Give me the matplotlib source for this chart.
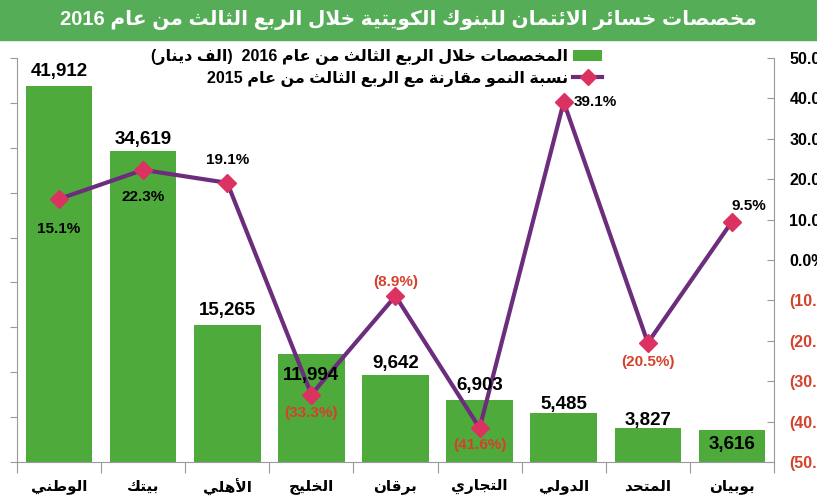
import re
import matplotlib
matplotlib.use("Agg")
import matplotlib.pyplot as plt
from matplotlib.patches import Rectangle, Patch
from matplotlib.lines import Line2D
import numpy as np

# ── data ────────────────────────────────────────────────────────────────
TITLE = "مخصصات خسائر الائتمان للبنوك الكويتية خلال الربع الثالث من عام 2016"
LEGEND_BARS = "المخصصات خلال الربع الثالث من عام 2016  (الف دينار)"
LEGEND_LINE = "نسبة النمو مقارنة مع الربع الثالث من عام 2015"
banks = ["الوطني", "بيتك", "الأهلي", "الخليج", "برقان", "التجاري", "الدولي", "المتحد", "بوبيان"]
provisions = [41912, 34619, 15265, 11994, 9642, 6903, 5485, 3827, 3616]
growth = [15.1, 22.3, 19.1, -33.3, -8.9, -41.6, 39.1, -20.5, 9.5]
right_ticks = [-50, -40, -30, -20, -10, 0, 10, 20, 30, 40, 50]

# label offsets in pixels (dx, dy) - placement only
bar_lbl_dy = [14, 12, 14, -21, 12, 15, 8, 7, -15]
pct_lbl_off = [(0, -30), (0, -27), (0, 23), (0, -18), (0, 14),
               (0, -17), (10, 0), (0, -19), (17, 16)]

GREEN = "#4FAA3C"
BANNER = "#55AD58"
PURPLE = "#6B2D7C"
PINK = "#DC3262"
RED = "#D4412C"
GREY = "#9A9A9A"


# ── minimal arabic shaping (matplotlib does no shaping / bidi) ─────────
DUAL = {'ئ': 0xFE89, 'ب': 0xFE8F, 'ت': 0xFE95, 'ث': 0xFE99, 'ج': 0xFE9D,
        'ح': 0xFEA1, 'خ': 0xFEA5, 'س': 0xFEB1, 'ش': 0xFEB5, 'ص': 0xFEB9,
        'ض': 0xFEBD, 'ط': 0xFEC1, 'ظ': 0xFEC5, 'ع': 0xFEC9, 'غ': 0xFECD,
        'ف': 0xFED1, 'ق': 0xFED5, 'ك': 0xFED9, 'ل': 0xFEDD, 'م': 0xFEE1,
        'ن': 0xFEE5, 'ه': 0xFEE9, 'ي': 0xFEF1}
RIGHT = {'آ': 0xFE81, 'أ': 0xFE83, 'ؤ': 0xFE85, 'إ': 0xFE87, 'ا': 0xFE8D,
         'ة': 0xFE93, 'د': 0xFEA9, 'ذ': 0xFEAB, 'ر': 0xFEAD, 'ز': 0xFEAF,
         'و': 0xFEED, 'ى': 0xFEEF}
LAMALEF = {'آ': 0xFEF5, 'أ': 0xFEF7, 'إ': 0xFEF9, 'ا': 0xFEFB}


def ar(text):
    toks = []
    i = 0
    while i < len(text):
        c = text[i]
        if c == 'ل' and i + 1 < len(text) and text[i + 1] in LAMALEF:
            toks.append(('LA', LAMALEF[text[i + 1]]))
            i += 2
            continue
        if c in DUAL:
            toks.append(('D', DUAL[c]))
        elif c in RIGHT:
            toks.append(('R', RIGHT[c]))
        else:
            toks.append(('N', c))
        i += 1
    out = []
    for k, (kind, v) in enumerate(toks):
        prev = k > 0 and toks[k - 1][0] == 'D'
        if kind == 'N':
            out.append(v)
            continue
        if kind == 'D':
            nxt = k + 1 < len(toks) and toks[k + 1][0] in ('D', 'R', 'LA')
            off = 3 if prev and nxt else 1 if prev else 2 if nxt else 0
        else:
            off = 1 if prev else 0
        out.append(chr(v + off))
    s = "".join(out)[::-1]
    s = re.sub(r"[0-9.,%]+", lambda m: m.group(0)[::-1], s)
    return s.translate(str.maketrans("()", ")("))


AR_FONT = ["DejaVu Sans"]
NUM_FONT = ["Liberation Sans", "DejaVu Sans"]

fig = plt.figure(figsize=(8.17, 5.0), dpi=100)
fig.patches.append(Rectangle((0, 1 - 40 / 500), 1, 40 / 500,
                             transform=fig.transFigure, color=BANNER, zorder=0))
fig.text(0.5, 1 - 20 / 500, ar(TITLE), ha="center", va="center",
         color="white", fontsize=14.5, fontweight="bold", family=NUM_FONT)

ax = fig.add_axes([17 / 817, 38 / 500, 757 / 817, 404 / 500])
ax2 = ax.twinx()

x = np.arange(len(banks))
ax.bar(x, provisions, width=0.79, color=GREEN, zorder=2)
ax.set_xlim(-0.5, len(banks) - 0.5)
ax.set_ylim(0, 45000)
ax.set_yticks(np.arange(0, 45001, 5000))
ax.set_yticklabels([])
ax.tick_params(axis="y", direction="out", length=5, color=GREY)

ax.set_xticks(np.arange(-0.5, len(banks), 1.0))
ax.set_xticklabels([])
ax.set_xticks(x, minor=True)
ax.set_xticklabels([ar(b) for b in banks], minor=True, fontsize=11,
                   fontweight="bold", family=AR_FONT)
ax.tick_params(axis="x", which="major", direction="out", length=8, color=GREY)
ax.tick_params(axis="x", which="minor", length=0, pad=12)

for sp in ["top", "right"]:
    ax.spines[sp].set_visible(False)
for sp in ["left", "bottom"]:
    ax.spines[sp].set_color(GREY)

ax2.plot(x, growth, color=PURPLE, lw=3, marker="D", ms=9,
         mfc=PINK, mec=PINK, zorder=3)
ax2.set_ylim(-50, 50)
ax2.set_yticks(right_ticks)
ax2.set_yticklabels([f"{t:.1f}%" if t >= 0 else f"({-t:.1f}%)" for t in right_ticks],
                    fontsize=11.5, fontweight="bold", family=NUM_FONT)
for lbl, t in zip(ax2.get_yticklabels(), right_ticks):
    lbl.set_color("black" if t >= 0 else RED)
ax2.tick_params(axis="y", direction="in", length=5, color=GREY, pad=11)
for sp in ["top", "left", "bottom"]:
    ax2.spines[sp].set_visible(False)
ax2.spines["right"].set_color(GREY)

# bar value labels
for xi, v, dy in zip(x, provisions, bar_lbl_dy):
    ax2.annotate(f"{v:,}", xy=(xi, v), xycoords=ax.transData,
                 xytext=(0, dy * 0.72), textcoords="offset points",
                 ha="center", va="center", fontsize=13.5, fontweight="bold",
                 family=NUM_FONT, zorder=5)

# growth labels
for xi, g, (dx, dy) in zip(x, growth, pct_lbl_off):
    txt = f"{g:.1f}%" if g >= 0 else f"({-g:.1f}%)"
    ax2.annotate(txt, xy=(xi, g), xytext=(dx * 0.72, dy * 0.72),
                 textcoords="offset points", ha="left" if dx > 0 and dy == 0 else "center",
                 va="center", fontsize=11, fontweight="bold", family=NUM_FONT,
                 color="black" if g >= 0 else RED, zorder=5)

handles = [Patch(facecolor=GREEN),
           Line2D([], [], color=PURPLE, lw=3, marker="D", ms=8, mfc=PINK, mec=PINK)]
ax2.legend(handles, [ar(LEGEND_BARS), ar(LEGEND_LINE)], loc="upper right",
           bbox_to_anchor=(602 / 817, 1 - 49 / 500), bbox_transform=fig.transFigure,
           frameon=False, markerfirst=False, handlelength=1.8, handletextpad=0.3,
           labelspacing=0.35, borderpad=0, borderaxespad=0,
           prop=dict(family=NUM_FONT, weight="bold", size=11.5))

fig.savefig("out.png", dpi=100)
